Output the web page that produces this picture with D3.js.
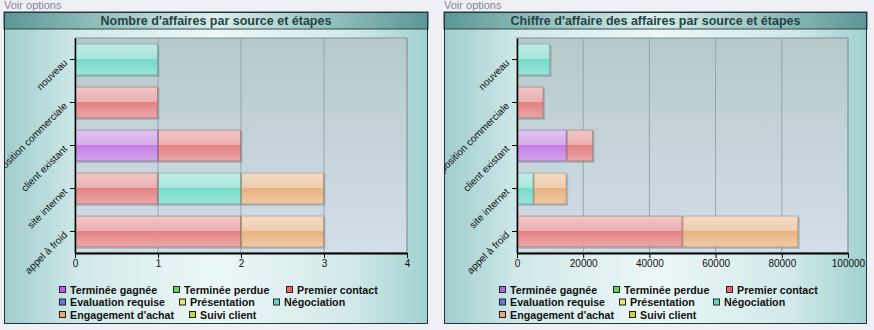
<!DOCTYPE html>
<html>
	<head>
		<meta charset="utf-8">
		<title>Affaires par source et étapes</title>
		<script src="https://d3js.org/d3.v7.min.js"></script>
		<style type="text/css">
			body { margin: 0; background: #eff0f5; font-family: "Liberation Sans", Arial, sans-serif; }
		</style>
	</head>
	<body>
		<script type="text/javascript">

			// categories (top to bottom) and stages
			var categories = ['nouveau', 'proposition commerciale', 'client existant', 'site internet', 'appel à froid'];
			var stages = ['Terminée gagnée', 'Terminée perdue', 'Premier contact', 'Evaluation requise',
				'Présentation', 'Négociation', "Engagement d'achat", 'Suivi client'];
			var stageColors = ['#c064e4', '#62d462', '#e86a6a', '#6474e2', '#f2e46a', '#5edcc4', '#eea866', '#c4d444'];

			// one row per stage, one value per category
			var countValues = [
				[0, 0, 1, 0, 0],   // Terminée gagnée
				[0, 0, 0, 0, 0],   // Terminée perdue
				[0, 1, 1, 1, 2],   // Premier contact
				[0, 0, 0, 0, 0],   // Evaluation requise
				[0, 0, 0, 0, 0],   // Présentation
				[1, 0, 0, 1, 0],   // Négociation
				[0, 0, 0, 1, 1],   // Engagement d'achat
				[0, 0, 0, 0, 0]    // Suivi client
			];
			var amountValues = [
				[0, 0, 15000, 0, 0],
				[0, 0, 0, 0, 0],
				[0, 8000, 8000, 0, 50000],
				[0, 0, 0, 0, 0],
				[0, 0, 0, 0, 0],
				[10000, 0, 0, 5000, 0],
				[0, 0, 0, 10000, 35000],
				[0, 0, 0, 0, 0]
			];
			var countTicks = [0, 1, 2, 3, 4];
			var amountTicks = [0, 20000, 40000, 60000, 80000, 100000];

			var titles = ["Nombre d'affaires par source et étapes", "Chiffre d'affaire des affaires par source et étapes"];

			var svg = d3.select('body')
				.append('svg')
				.attr('width', 874)
				.attr('height', 330);

			var defs = svg.append('defs');

			function mix(c, t) {
				return d3.interpolateRgb(c, '#ffffff')(t);
			}

			//gradients des barres (effet brillant)
			stageColors.forEach(function(c, i) {
				var g = defs.append('linearGradient').attr('id', 'bar' + i)
					.attr('x1', 0).attr('y1', 0).attr('x2', 0).attr('y2', 1);
				g.append('stop').attr('offset', '0%').attr('stop-color', mix(c, 0.64));
				g.append('stop').attr('offset', '47%').attr('stop-color', mix(c, 0.46));
				g.append('stop').attr('offset', '50%').attr('stop-color', mix(c, 0.12));
				g.append('stop').attr('offset', '100%').attr('stop-color', mix(c, 0.4));
			});

			var gTitle = defs.append('linearGradient').attr('id', 'titleGrad');
			[['0%', '#5a9795'], ['50%', '#dbeeec'], ['100%', '#5a9795']].forEach(function(s) {
				gTitle.append('stop').attr('offset', s[0]).attr('stop-color', s[1]);
			});
			var gBody = defs.append('linearGradient').attr('id', 'bodyGrad');
			[['0%', '#9fcdcd'], ['18%', '#d2e9e9'], ['50%', '#ecf7f7'], ['82%', '#d2e9e9'], ['100%', '#9fd1cf']].forEach(function(s) {
				gBody.append('stop').attr('offset', s[0]).attr('stop-color', s[1]);
			});
			var gPlot = defs.append('linearGradient').attr('id', 'plotGrad')
				.attr('x1', 0).attr('y1', 0).attr('x2', 0).attr('y2', 1);
			[['0%', '#b6c9ca'], ['100%', '#d3dee9']].forEach(function(s) {
				gPlot.append('stop').attr('offset', s[0]).attr('stop-color', s[1]);
			});

			// legend layout (offsets from panel left)
			var legendRows = [[0, 1, 2], [3, 4, 5], [6, 7]];
			var legendX = [[55, 169, 282], [55, 175, 269], [55, 185]];

			function drawPanel(i, left, right, plotLeft, plotRight, values, ticks) {
				var top = 12, bottom = 324;
				var g = svg.append('g');

				g.append('text')
					.attr('x', left)
					.attr('y', 9)
					.attr('font-size', '11px')
					.attr('fill', '#85869c')
					.text('Voir options');

				var clipId = 'clip' + i;
				defs.append('clipPath').attr('id', clipId)
					.append('rect').attr('x', left).attr('y', top).attr('width', right - left).attr('height', bottom - top);

				g.append('rect')
					.attr('x', left).attr('y', 29)
					.attr('width', right - left).attr('height', bottom - 29)
					.attr('fill', 'url(#bodyGrad)');
				g.append('rect')
					.attr('x', left).attr('y', top)
					.attr('width', right - left).attr('height', 17)
					.attr('fill', 'url(#titleGrad)')
					.attr('stroke', '#2f4a4a');
				g.append('text')
					.attr('x', (left + right) / 2)
					.attr('y', 25)
					.attr('text-anchor', 'middle')
					.attr('font-size', '12.5px')
					.attr('font-weight', 'bold')
					.attr('fill', '#264444')
					.text(titles[i]);
				g.append('rect')
					.attr('x', left + 0.5).attr('y', top + 0.5)
					.attr('width', right - left - 1).attr('height', bottom - top - 1)
					.attr('fill', 'none')
					.attr('stroke', '#233535');

				var plotTop = 38, plotBottom = 253;
				var xScale = d3.scaleLinear()
					.domain([0, ticks[ticks.length - 1]])
					.range([plotLeft, plotRight]);
				var yScale = d3.scaleBand()
					.domain(categories)
					.range([plotTop, plotBottom])
					.paddingInner(0.26)
					.paddingOuter(0.13);

				g.append('rect')
					.attr('x', plotLeft).attr('y', plotTop)
					.attr('width', plotRight - plotLeft).attr('height', plotBottom - plotTop)
					.attr('fill', 'url(#plotGrad)')
					.attr('stroke', '#7f9196');

				g.selectAll('line.grid')
					.data(ticks.slice(1))
					.enter()
					.append('line')
					.attr('class', 'grid')
					.attr('x1', function(d) { return xScale(d); })
					.attr('x2', function(d) { return xScale(d); })
					.attr('y1', plotTop)
					.attr('y2', plotBottom)
					.attr('stroke', '#93a6ae');

				//empilement par étape
				var rows = categories.map(function(c, ci) {
					var r = { cat: c };
					stages.forEach(function(s, si) { r[s] = values[si][ci]; });
					return r;
				});
				var series = d3.stack().keys(stages)(rows);

				var bars = g.append('g');
				series.forEach(function(s, si) {
					var seg = s.filter(function(d) { return d[1] - d[0] > 0; });
					bars.selectAll(null)
						.data(seg)
						.enter()
						.append('rect')
						.attr('x', function(d) { return xScale(d[0]) + 1.5; })
						.attr('y', function(d) { return yScale(d.data.cat) + 1.5; })
						.attr('width', function(d) { return xScale(d[1]) - xScale(d[0]); })
						.attr('height', yScale.bandwidth())
						.attr('fill', '#6a7a80')
						.attr('opacity', 0.35);
					bars.selectAll(null)
						.data(seg)
						.enter()
						.append('rect')
						.attr('x', function(d) { return xScale(d[0]) + 0.5; })
						.attr('y', function(d) { return yScale(d.data.cat) + 0.5; })
						.attr('width', function(d) { return xScale(d[1]) - xScale(d[0]) - 1; })
						.attr('height', yScale.bandwidth() - 1)
						.attr('fill', 'url(#bar' + si + ')')
						.attr('fill-opacity', 0.9)
						.attr('stroke', d3.color(stageColors[si]).darker(1.2))
						.attr('stroke-opacity', 0.45);
				});

				var xAxis = d3.axisBottom(xScale)
					.tickValues(ticks)
					.tickFormat(d3.format('d'))
					.tickSize(5)
					.tickSizeOuter(0);
				var ax = g.append('g')
					.attr('transform', 'translate(0,' + plotBottom + ')')
					.call(xAxis);
				ax.select('.domain').attr('stroke', '#000').attr('stroke-width', 2);
				ax.selectAll('.tick line').attr('stroke', '#000');
				ax.selectAll('.tick text')
					.attr('font-family', '"Liberation Sans", Arial, sans-serif')
					.attr('font-size', '10px')
					.attr('fill', '#111')
					.attr('dy', '0.6em');

				var yAxis = d3.axisLeft(yScale).tickSize(5).tickSizeOuter(0).tickFormat('');
				var ay = g.append('g')
					.attr('transform', 'translate(' + plotLeft + ',0)')
					.call(yAxis);
				ay.select('.domain').attr('stroke', '#000').attr('stroke-width', 1.5);
				ay.selectAll('.tick line').attr('stroke', '#000');

				g.append('g')
					.attr('clip-path', 'url(#' + clipId + ')')
					.selectAll('text')
					.data(categories)
					.enter()
					.append('text')
					.attr('transform', function(d) {
						return 'translate(' + (plotLeft - 7) + ',' + (yScale(d) + yScale.bandwidth() / 2 + 4) + ') rotate(-45)';
					})
					.attr('text-anchor', 'end')
					.attr('font-size', '10px')
					.attr('fill', '#111')
					.text(function(d) { return d; });

				//légende
				legendRows.forEach(function(row, ri) {
					row.forEach(function(si, k) {
						var lx = left + legendX[ri][k];
						var ly = 289.5 + ri * 12.5;
						g.append('rect')
							.attr('x', lx + 0.5).attr('y', ly - 3)
							.attr('width', 6).attr('height', 6)
							.attr('fill', stageColors[si])
							.attr('stroke', '#222');
						g.append('text')
							.attr('x', lx + 11)
							.attr('y', ly + 4)
							.attr('font-size', '10.7px')
							.attr('font-weight', 'bold')
							.attr('fill', '#111')
							.text(stages[si]);
					});
				});
			}

			drawPanel(0, 4, 428, 75, 407, countValues, countTicks);
			drawPanel(1, 444, 867, 517, 848, amountValues, amountTicks);

		</script>
	</body>
</html>
